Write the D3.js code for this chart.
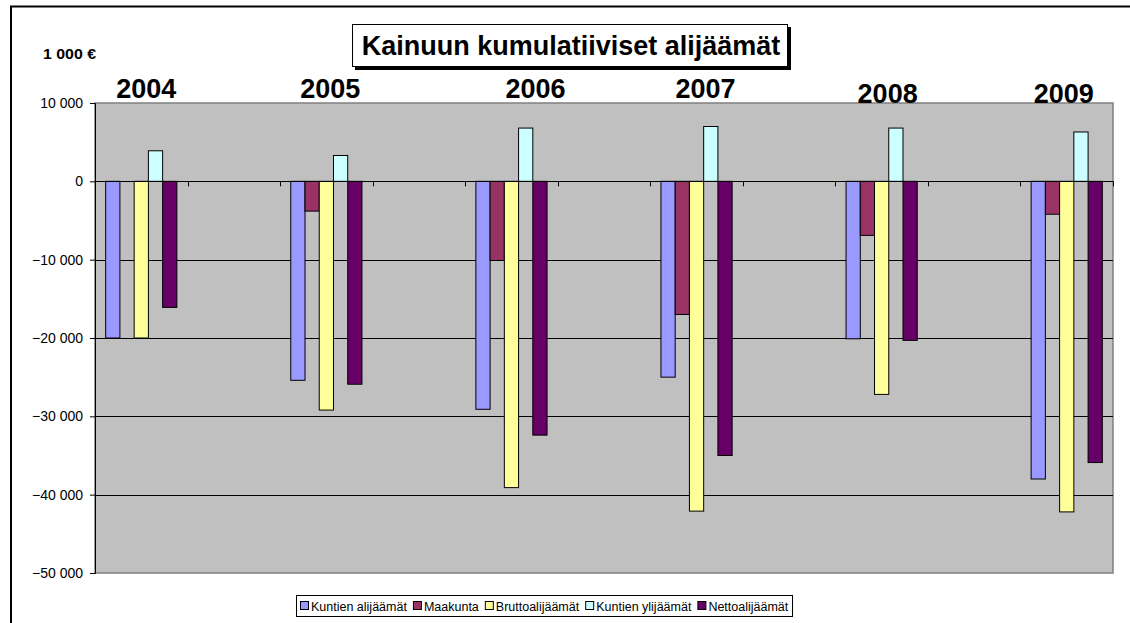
<!DOCTYPE html>
<html>
<head>
<meta charset="utf-8">
<script src="https://cdn.jsdelivr.net/npm/d3@7"></script>
<style>
	body { margin:0; background:#fff; }
	svg { display:block; font-family:"Liberation Sans", Arial, sans-serif; }
</style>
</head>
<body>
<svg id="svgelement" width="1130" height="623"></svg>
<script>
	// data (thousand euros), blank slots between the years as in the original sheet
	var categories = ["2004", "", "2005", "", "2006", "", "2007", "", "2008", "", "2009"];
	var seriesNames = ["Kuntien alijäämät", "Maakunta", "Bruttoalijäämät", "Kuntien ylijäämät", "Nettoalijäämät"];
	var kuntienAlijaamat = [-20000, null, -25400, null, -29100, null, -25000, null, -20100, null, -38000];
	var maakunta        = [0, null, -3800, null, -10100, null, -17000, null, -6900, null, -4200];
	var bruttoalijaamat = [-20000, null, -29200, null, -39100, null, -42100, null, -27200, null, -42200];
	var kuntienYlijaamat = [3900, null, 3300, null, 6800, null, 7000, null, 6800, null, 6300];
	var nettoalijaamat  = [-16100, null, -25900, null, -32400, null, -35000, null, -20300, null, -35900];
	var yTicks = [10000, 0, -10000, -20000, -30000, -40000, -50000];
	var colors = ["#9999ff", "#993366", "#ffff99", "#ccffff", "#660066"];

	var values = [kuntienAlijaamat, maakunta, bruttoalijaamat, kuntienYlijaamat, nettoalijaamat];

	var svg = d3.select("#svgelement");
	var plotLeft = 95, plotRight = 1113, plotTop = 103, plotBottom = 573;

	// outer frame (only top and left edges are in view)
	svg.append("rect").attr("x",11).attr("y",6.5).attr("width",1200).attr("height",700)
		.attr("fill","none").attr("stroke","#000").attr("stroke-width",2);

	var x = d3.scaleBand().domain(d3.range(categories.length)).range([plotLeft,plotRight]);
	var bw = x.bandwidth() / 6.5;
	var xs = d3.scaleBand().domain(d3.range(seriesNames.length))
		.range([bw*0.75, x.bandwidth()-bw*0.75]);
	var y = d3.scaleLinear().domain([-50000,10000]).range([plotBottom,plotTop]);

	// plot area
	svg.append("rect").attr("x",plotLeft).attr("y",plotTop).attr("width",plotRight-plotLeft).attr("height",plotBottom-plotTop)
		.attr("fill","#c0c0c0").attr("stroke","#808080").attr("stroke-width",1.5);

	svg.append("g").selectAll("line")
		.data(yTicks.filter(function(d){return d>-50000 && d<10000;}))
		.enter().append("line")
		.attr("x1",plotLeft).attr("x2",plotRight)
		.attr("y1",function(d){return Math.round(y(d))+0.5;})
		.attr("y2",function(d){return Math.round(y(d))+0.5;})
		.attr("stroke","#000").attr("stroke-width",1);

	// y axis
	var yAxis = d3.axisLeft(y).tickValues(yTicks).tickSize(5).tickPadding(7)
		.tickFormat(function(d){return d3.format(",")(d).replace(/,/g," ");});
	var ya = svg.append("g").attr("transform","translate("+plotLeft+",0)").call(yAxis);
	ya.select(".domain").attr("stroke","#000");
	ya.selectAll(".tick line").attr("stroke","#000");
	ya.selectAll("text").attr("font-size",14).attr("fill","#000").attr("font-family","Liberation Sans, Arial");

	// x axis on zero line, ticks at slot boundaries
	var bounds = d3.range(categories.length+1).map(function(i){return plotLeft + i*x.bandwidth();});
	svg.append("g").selectAll("line").data(bounds).enter().append("line")
		.attr("x1",function(d){return Math.round(d)+0.5;}).attr("x2",function(d){return Math.round(d)+0.5;})
		.attr("y1",y(0)).attr("y2",y(0)+5).attr("stroke","#000");

	// bars
	var bars = [];
	values.forEach(function(arr,s){
		arr.forEach(function(v,i){
			if(v!==null && v!==0) bars.push({s:s,i:i,v:v});
		});
	});
	svg.append("g").selectAll("rect").data(bars).enter().append("rect")
		.attr("x",function(d){return x(d.i)+xs(d.s);})
		.attr("width",xs.bandwidth())
		.attr("y",function(d){return y(Math.max(0,d.v));})
		.attr("height",function(d){return Math.abs(y(d.v)-y(0));})
		.attr("fill",function(d){return colors[d.s];})
		.attr("stroke","#000").attr("stroke-width",1);

	svg.append("line").attr("x1",plotLeft).attr("x2",plotRight)
		.attr("y1",Math.round(y(0))+0.5).attr("y2",Math.round(y(0))+0.5).attr("stroke","#000");

	// year labels (free text boxes over the plot)
	var labelShift = [5, 0, 4, 0, 24, 0, 9, 0, 6, 0, -3];
	var labelBase = [98, 0, 98, 0, 98, 0, 98, 0, 103, 0, 103];
	svg.append("g").selectAll("text")
		.data(categories.map(function(c,i){return {c:c,i:i};}).filter(function(d){return d.c!=="";}))
		.enter().append("text")
		.attr("x",function(d){return x(d.i)+x.bandwidth()/2+labelShift[d.i];})
		.attr("y",function(d){return labelBase[d.i];})
		.attr("text-anchor","middle").attr("font-size",27).attr("font-weight","bold")
		.text(function(d){return d.c;});

	// unit
	svg.append("text").attr("x",43).attr("y",59).attr("font-size",14).attr("font-weight","bold")
		.attr("textLength",53).attr("lengthAdjust","spacingAndGlyphs")
		.text("1 000 €");

	// title box with shadow
	svg.append("rect").attr("x",355).attr("y",27).attr("width",436).attr("height",43).attr("fill","#000");
	svg.append("rect").attr("x",352.5).attr("y",24.5).attr("width",435).attr("height",42)
		.attr("fill","#fff").attr("stroke","#000").attr("stroke-width",1);
	svg.append("text").attr("x",571).attr("y",55).attr("text-anchor","middle")
		.attr("font-size",27).attr("font-weight","bold")
		.text("Kainuun kumulatiiviset alijäämät");

	// legend
	var lg = svg.append("g");
	lg.append("rect").attr("x",296.5).attr("y",595.5).attr("width",496).attr("height",21)
		.attr("fill","#fff").attr("stroke","#000");
	var lx = 300;
	seriesNames.forEach(function(n,i){
		lg.append("rect").attr("x",lx+0.5).attr("y",601.5).attr("width",8).attr("height",8)
			.attr("fill",colors[i]).attr("stroke","#000");
		var t = lg.append("text").attr("x",lx+11).attr("y",611).attr("font-size",12.5).text(n);
		lx += 11 + t.node().getComputedTextLength() + 6;
	});
</script>
</body>
</html>
